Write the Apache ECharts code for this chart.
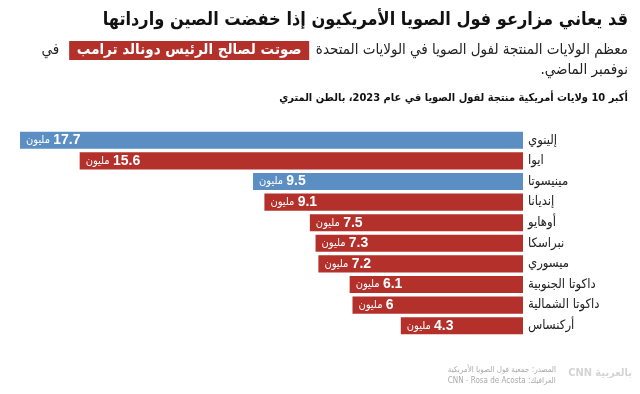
<!DOCTYPE html>
<html dir="rtl">
<head>
<meta charset="utf-8">
<script src="https://cdn.jsdelivr.net/npm/echarts@6/dist/echarts.min.js"></script>
<style>
html,body{margin:0;padding:0;background:#fff;}
#c{width:640px;height:394px;}
</style>
</head>
<body>
<div id="c"></div>
<script>
var states = ['إلينوي','ايوا','مينيسوتا','إنديانا','أوهايو','نبراسكا','ميسوري','داكوتا الجنوبية','داكوتا الشمالية','أركنساس'];
var production = [17.7, 15.6, 9.5, 9.1, 7.5, 7.3, 7.2, 6.1, 6, 4.3];
var vote2024 = ['D','R','D','R','R','R','R','R','R','R'];
var unitLabel = 'مليون';

var FONT = '"DejaVu Sans Condensed","DejaVu Sans",sans-serif';
var BLUE = '#5b8ec3';
var RED = '#b3302b';

var chart = echarts.init(document.getElementById('c'));
chart.setOption({
  backgroundColor: '#fff',
  animation: false,
  grid: {left: 20, right: 117, top: 130, bottom: 58, containLabel: false},
  xAxis: {type: 'value', inverse: true, min: 0, max: 17.7, show: false},
  yAxis: {
    type: 'category', data: states, inverse: true, position: 'right',
    axisLine: {show: false}, axisTick: {show: false},
    axisLabel: {align: 'left', margin: 5, color: '#222', fontSize: 13, fontFamily: FONT}
  },
  series: [{
    type: 'bar',
    barCategoryGap: '17%',
    data: production.map(function (v, i) {
      return {value: v, itemStyle: {color: vote2024[i] === 'D' ? BLUE : RED}};
    }),
    label: {
      show: true, position: 'insideLeft', distance: 6,
      formatter: function (p) { return '{u|' + unitLabel + '} {n|' + p.value + '}'; },
      rich: {
        u: {color: '#fff', fontSize: 11, fontFamily: FONT},
        n: {color: '#fff', fontSize: 14, fontWeight: 'bold', fontFamily: '"Liberation Sans",Arial,sans-serif'}
      }
    }
  }],
  graphic: [
    {type: 'text', right: 12, top: 11, style: {text: 'قد يعاني مزارعو فول الصويا الأمريكيون إذا خفضت الصين وارداتها', fill: '#111', font: 'bold 18px ' + FONT}},
    {type: 'text', right: 12, top: 41, style: {
      text: '{a|في}   {h| صوتت لصالح الرئيس دونالد ترامب }  {a|معظم الولايات المنتجة لفول الصويا في الولايات المتحدة}',
      rich: {
        a: {fill: '#222', fontSize: 15, fontFamily: FONT},
        h: {fill: '#fff', fontSize: 15, fontWeight: 'bold', fontFamily: FONT, backgroundColor: RED, padding: [2, 3, 2, 3]}
      }
    }},
    {type: 'text', right: 12, top: 63, style: {text: 'نوفمبر الماضي.', fill: '#222', font: '15px ' + FONT}},
    {type: 'text', right: 12, top: 93, style: {text: 'أكبر 10 ولايات أمريكية منتجة لفول الصويا في عام 2023، بالطن المتري', fill: '#111', font: 'bold 11px ' + FONT}},
    {type: 'text', right: 84, top: 364, style: {text: 'المصدر: جمعية فول الصويا الأمريكية\nالغرافيك: CNN - Rosa de Acosta', fill: '#aaa', font: '8px ' + FONT, align: 'right', lineHeight: 11}},
    {type: 'text', right: 8, top: 367, style: {
      text: '{c|CNN} {a|بالعربية}',
      rich: {
        c: {fill: '#d4d4d4', fontSize: 11, fontWeight: 'bold', fontFamily: FONT},
        a: {fill: '#d4d4d4', fontSize: 11, fontWeight: 'bold', fontFamily: FONT}
      }
    }}
  ]
});
</script>
</body>
</html>
